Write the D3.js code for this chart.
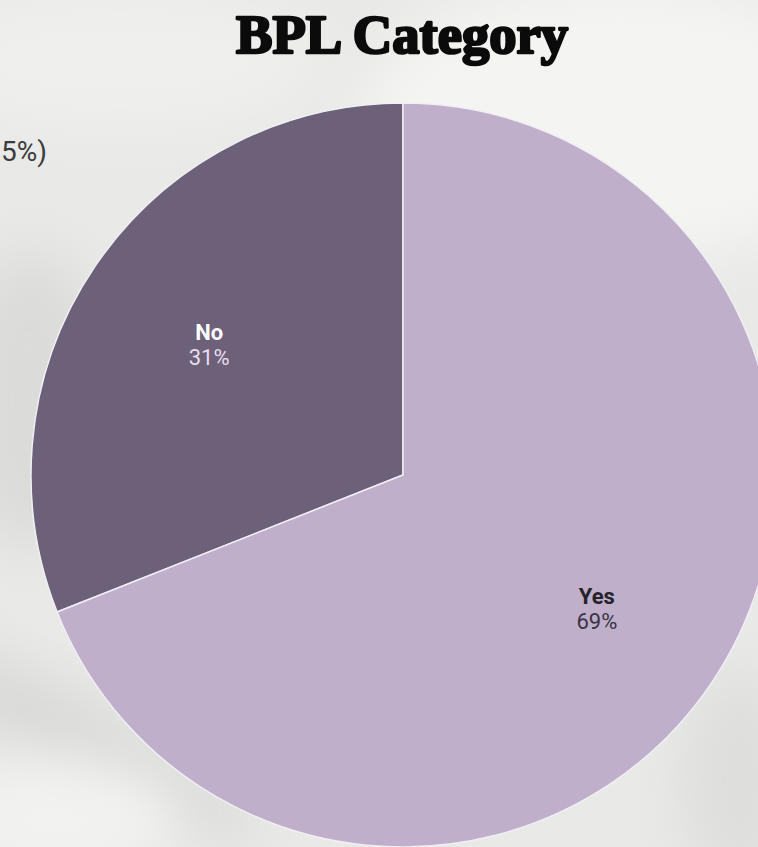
<!DOCTYPE html>
<html>
<head>
<meta charset="utf-8">
<script src="https://cdn.jsdelivr.net/npm/d3@7"></script>
<style>
  html, body { margin: 0; padding: 0; background: #e9e9e7; overflow: hidden; }
  svg { display: block; }
</style>
</head>
<body>
<svg id="chart" width="758" height="847"></svg>
<script>
// BPL category shares
const categories = ["No", "Yes"];
const shares = [31, 69];
const sliceColors = ["#6d6079", "#bfafcb"];
const labelColors = [["#ffffff", "#e6deee"], ["#26222c", "#3a3444"]];

const W = 758, H = 847;
const cx = 403, cy = 475, R = 372;

const svg = d3.select("#chart");
const defs = svg.append("defs");

// soft stone-like backdrop
const blur = defs.append("filter").attr("id", "soft")
  .attr("x", "-50%").attr("y", "-50%").attr("width", "200%").attr("height", "200%");
blur.append("feGaussianBlur").attr("stdDeviation", 28);

const bg = svg.append("g");
bg.append("rect").attr("width", W).attr("height", H).attr("fill", "#e9e9e7");
const patches = [
  { x: 620, y: 120, rx: 260, ry: 140, c: "#f4f4f2" },
  { x: 120, y: 60, rx: 200, ry: 70, c: "#efefed" },
  { x: 30, y: 400, rx: 80, ry: 150, c: "#dbdbd9" },
  { x: 80, y: 740, rx: 200, ry: 38, c: "#d8d8d6", rot: 28 },
  { x: 60, y: 820, rx: 120, ry: 60, c: "#f2f2f0" },
  { x: 740, y: 780, rx: 60, ry: 110, c: "#dededc" }
];
bg.selectAll("ellipse").data(patches).join("ellipse")
  .attr("cx", d => d.x).attr("cy", d => d.y)
  .attr("rx", d => d.rx).attr("ry", d => d.ry)
  .attr("transform", d => d.rot ? `rotate(${d.rot},${d.x},${d.y})` : null)
  .attr("fill", d => d.c)
  .attr("filter", "url(#soft)");

// partially visible label from a neighbouring chart
svg.append("text")
  .attr("x", 1).attr("y", 161)
  .attr("text-anchor", "start")
  .attr("font-family", "Roboto, sans-serif")
  .attr("font-size", 28)
  .attr("fill", "#3c3c3c")
  .text("5%)");

// title
svg.append("text")
  .attr("x", 402).attr("y", 53)
  .attr("text-anchor", "middle")
  .attr("font-family", "'Liberation Serif', 'DejaVu Serif', serif")
  .attr("font-weight", 700)
  .attr("font-size", 55)
  .attr("textLength", 332)
  .attr("lengthAdjust", "spacingAndGlyphs")
  .attr("fill", "#0b0b0b")
  .attr("stroke", "#0b0b0b")
  .attr("stroke-width", 2.6)
  .attr("stroke-linejoin", "round")
  .text("BPL Category");

// pie, drawn counter-clockwise from 12 o'clock so "No" sits on the left
const data = categories.map((c, i) => ({ cat: c, value: shares[i], i }));
const pie = d3.pie().value(d => d.value).sort(null)
  .startAngle(0).endAngle(-2 * Math.PI);
const arcs = pie(data);
const arc = d3.arc().innerRadius(0).outerRadius(R);
const labelArc = d3.arc().innerRadius(R * 0.63).outerRadius(R * 0.63);

const g = svg.append("g").attr("transform", `translate(${cx},${cy})`);
g.selectAll("path").data(arcs).join("path")
  .attr("d", arc)
  .attr("fill", d => sliceColors[d.data.i])
  .attr("stroke", "#f1eef4")
  .attr("stroke-width", 1.5);

const labels = g.selectAll("g.lbl").data(arcs).join("g")
  .attr("class", "lbl")
  .attr("transform", d => `translate(${labelArc.centroid(d)})`)
  .attr("font-family", "Roboto, sans-serif")
  .attr("font-size", 22)
  .attr("text-anchor", "middle");
labels.append("text")
  .attr("y", -3)
  .attr("font-weight", 700)
  .attr("fill", d => labelColors[d.data.i][0])
  .text(d => d.data.cat);
labels.append("text")
  .attr("y", 22)
  .attr("fill", d => labelColors[d.data.i][1])
  .text(d => d.data.value + "%");
</script>
</body>
</html>
